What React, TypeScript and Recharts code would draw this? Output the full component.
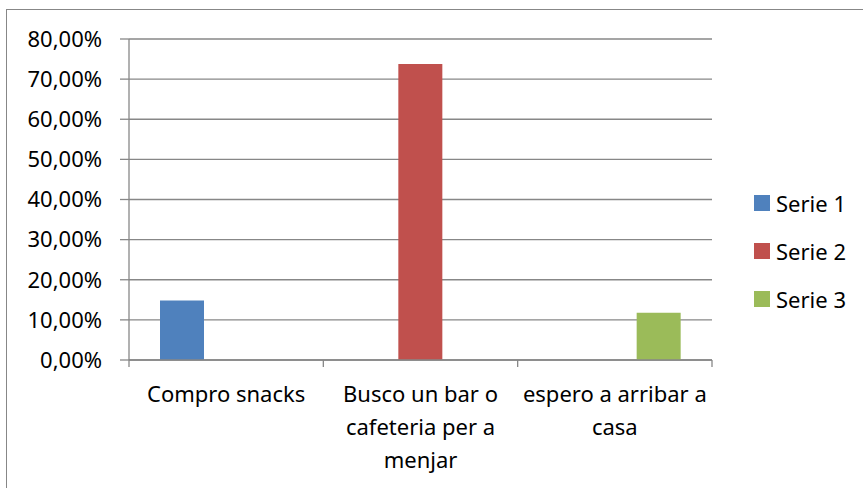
import React from 'react';
import { BarChart, Bar, XAxis, YAxis, CartesianGrid, Legend } from 'recharts';

// Category labels, already split into lines as in the picture
const categoryLines: string[][] = [
  ['Compro snacks'],
  ['Busco un bar o', 'cafeteria per a', 'menjar'],
  ['espero a arribar a', 'casa'],
];
const categories = categoryLines.map((l) => l.join(' '));

const seriesNames = ['Serie 1', 'Serie 2', 'Serie 3'];
const seriesColors = ['#4F81BD', '#C0504D', '#9BBB59'];
const serie1 = [14.8, null, null];
const serie2 = [null, 73.8, null];
const serie3 = [null, null, 11.8];

const yTicks = [0, 10, 20, 30, 40, 50, 60, 70, 80];

const data = categories.map((name, i) => ({
  name,
  s1: serie1[i],
  s2: serie2[i],
  s3: serie3[i],
}));

const FONT = '"Noto Sans", sans-serif';
const GRID = '#878787';

const CategoryTick = (props: any) => {
  const { x, y, payload, index } = props;
  const half = payload.offset || 0;
  const lines = categoryLines[index] || [payload.value];
  const last = index === categories.length - 1;
  return (
    <g>
      <line x1={x - half} x2={x - half} y1={y} y2={y + 7} stroke={GRID} strokeWidth={1.3} />
      {last && <line x1={x + half} x2={x + half} y1={y} y2={y + 7} stroke={GRID} strokeWidth={1.3} />}
      <text x={x} y={y + 42} textAnchor="middle" fill="#000" fontSize={22} fontFamily={FONT}>
        {lines.map((ln, i) => (
          <tspan key={i} x={x} dy={i === 0 ? 0 : 33}>{ln}</tspan>
        ))}
      </text>
    </g>
  );
};

const LegendBox = () => (
  <div style={{ fontFamily: FONT, fontSize: 22, color: '#000' }}>
    {seriesNames.map((n, i) => (
      <div key={n} style={{ display: 'flex', alignItems: 'center', height: 48 }}>
        <span style={{ width: 16, height: 16, background: seriesColors[i], display: 'inline-block', marginRight: 6 }} />
        <span>{n}</span>
      </div>
    ))}
  </div>
);

export default function App() {
  return (
    <div style={{ position: 'absolute', left: 0, top: 0, width: 863, height: 488, background: '#fff', overflow: 'hidden' }}>
      <div style={{ position: 'absolute', left: 6, top: 9, width: 900, height: 500, borderLeft: `1.5px solid ${GRID}`, borderTop: `1.5px solid ${GRID}` }} />
      <BarChart
        width={863}
        height={488}
        data={data}
        margin={{ top: 39, right: 151, left: 0, bottom: 28 }}
        barGap={0}
        barSize={44}
        style={{ position: 'absolute', left: 0, top: 0 }}
      >
        <CartesianGrid vertical={false} stroke={GRID} strokeWidth={1.3} />
        <XAxis
          dataKey="name"
          height={100}
          axisLine={{ stroke: GRID, strokeWidth: 1.3 }}
          tickLine={false}
          tickSize={0}
          tickMargin={0}
          interval={0}
          tick={<CategoryTick />}
        />
        <YAxis
          width={129}
          domain={[0, 80]}
          ticks={yTicks}
          interval={0}
          axisLine={{ stroke: GRID, strokeWidth: 1.3 }}
          tickLine={{ stroke: GRID, strokeWidth: 1.3 }}
          tickSize={9}
          tickMargin={18}
          tickFormatter={(v: number) => `${v.toFixed(2).replace('.', ',')}%`}
          tick={{ fill: '#000', fontSize: 22, fontFamily: FONT }}
        />
        <Legend
          layout="horizontal"
          verticalAlign="middle"
          align="center"
          content={<LegendBox />}
          wrapperStyle={{ left: 754, top: 179, width: 110 }}
        />
        <Bar dataKey="s1" name={seriesNames[0]} fill={seriesColors[0]} isAnimationActive={false} />
        <Bar dataKey="s2" name={seriesNames[1]} fill={seriesColors[1]} isAnimationActive={false} />
        <Bar dataKey="s3" name={seriesNames[2]} fill={seriesColors[2]} isAnimationActive={false} />
      </BarChart>
    </div>
  );
}
